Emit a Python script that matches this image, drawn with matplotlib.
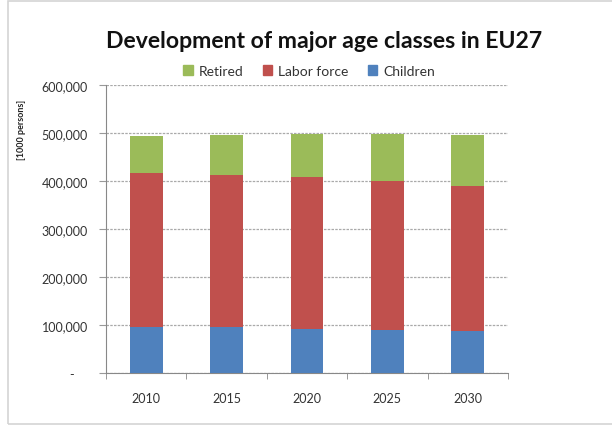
import matplotlib
matplotlib.use("Agg")
import matplotlib.pyplot as plt
from matplotlib.patches import Rectangle, Patch
from matplotlib.ticker import FuncFormatter
import numpy as np

years = ["2010", "2015", "2020", "2025", "2030"]
children = [96000, 95500, 92000, 90000, 87000]
labor_force = [320000, 317000, 316000, 309000, 303000]
retired = [77000, 83500, 90000, 99000, 106000]

series_names = ["Children", "Labor force", "Retired"]
series_colors = ["#4F81BD", "#C0504D", "#9BBB59"]

plt.rcParams["font.family"] = ["Lato", "DejaVu Sans"]

fig = plt.figure(figsize=(6.12, 4.27), dpi=100)
fig.patch.set_facecolor("white")

# light outer frame of the chart area
fig.patches.append(Rectangle((8 / 612, 2 / 427), 1.0, 423 / 427,
                             transform=fig.transFigure, fill=False,
                             edgecolor="#d4d4d4", linewidth=1.2))

ax = fig.add_axes([106 / 612, 1 - 374 / 427, 402 / 612, 288 / 427])

x = np.arange(len(years))
bottom = np.zeros(len(years))
for name, vals, col in zip(series_names, [children, labor_force, retired], series_colors):
    ax.bar(x, vals, width=0.41, bottom=bottom, color=col, label=name, zorder=3)
    bottom += np.array(vals)

ax.set_xlim(-0.5, len(years) - 0.5)
ax.set_ylim(0, 600000)
ax.set_yticks(np.arange(0, 600001, 100000))
ax.yaxis.set_major_formatter(FuncFormatter(lambda v, p: "-    " if v == 0 else f"{int(v):,}"))
ax.set_xticks(x)
ax.set_xticklabels(years)
ax.set_xticks(np.arange(-0.5, len(years)), minor=True)
ax.tick_params(axis="x", which="major", length=0, pad=14, labelsize=9, labelcolor="#333333")
ax.tick_params(axis="x", which="minor", length=4, direction="out", color="#888888")
ax.tick_params(axis="y", length=5, direction="out", color="#999999", labelsize=9,
               labelcolor="#333333", pad=8)

ax.grid(axis="y", color="#aaaaaa", linestyle=(0, (2, 1)), linewidth=0.9, zorder=0)
for s in ["top", "right"]:
    ax.spines[s].set_visible(False)
ax.spines["left"].set_color("#888888")
ax.spines["bottom"].set_color("#888888")

fig.text(324 / 612, 1 - 42 / 427, "Development of major age classes in EU27",
         ha="center", va="center", fontsize=16.6, fontweight="bold", color="#111111")

fig.text(22 / 612, 1 - 130 / 427, "[1000 persons]", rotation=90, ha="center", va="center",
         fontsize=6.5, fontweight="bold", color="#222222")

handles = [Patch(color=series_colors[2]), Patch(color=series_colors[1]), Patch(color=series_colors[0])]
fig.legend(handles, ["Retired", "Labor force", "Children"], loc="center",
           bbox_to_anchor=(309 / 612, 1 - 72 / 427), ncol=3, frameon=False,
           fontsize=10, handlelength=0.7, handleheight=0.7, handletextpad=0.4,
           columnspacing=1.4, labelcolor="#333333")

fig.savefig("out.png", dpi=100)
